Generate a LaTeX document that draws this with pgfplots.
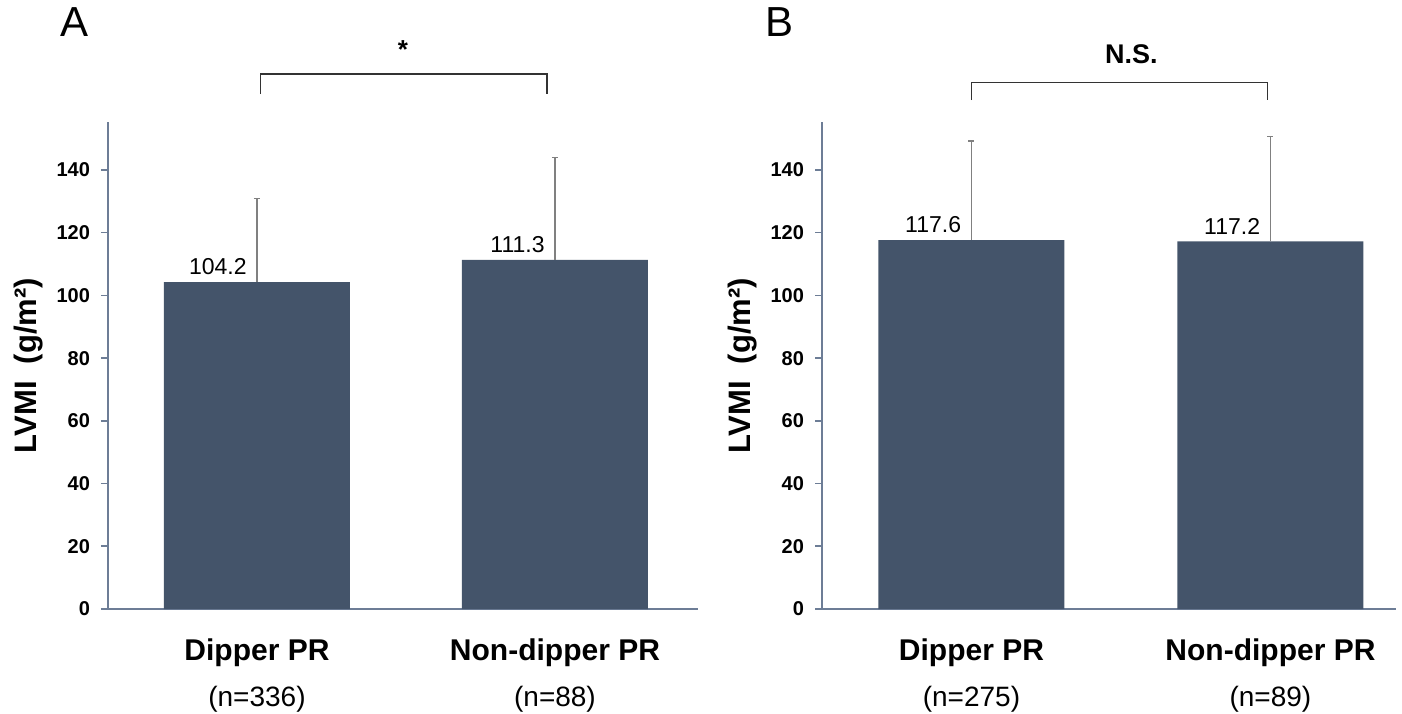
\documentclass[border=0pt]{standalone}
\usepackage{fontspec}
\setmainfont{Liberation Sans}
\usepackage{pgfplots}
\pgfplotsset{compat=1.18}

\definecolor{barcol}{HTML}{44546A}
\definecolor{axcol}{HTML}{6D7D96}
\definecolor{errcol}{HTML}{808080}

% 1 px of the reference = 0.5pt
\pgfplotsset{
  lvmi/.style={
    scale only axis,
    height=243.5pt,
    ymin=0, ymax=155.3,
    xmin=-0.5,
    axis x line*=bottom,
    axis y line*=left,
    axis line style={axcol, line width=0.8pt},
    ytick={0,20,...,140},
    ytick style={axcol, line width=0.8pt},
    major tick length=3.5pt,
    tick align=outside,
    xtick={0,1},
    major x tick style={draw=none},
    /pgf/number format/assume math mode=true,
    yticklabel style={font=\fontsize{10}{12}\selectfont\bfseries, xshift=-2pt},
    xticklabel style={align=center, yshift=-8pt},
    ylabel={LVMI\ \ (g/m²)},
    ylabel style={font=\fontsize{15.5}{18}\selectfont\bfseries},
    ybar,
    bar width=93pt,
    clip=false,
    nodes near coords={\pgfmathprintnumber[fixed,precision=1,fixed zerofill]{\pgfplotspointmeta}},
    every node near coord/.append style={font=\fontsize{11.5}{13}\selectfont, anchor=south east, inner sep=0pt, xshift=-5pt, yshift=3.5pt, color=black},
  },
  lvmibar/.style={
    fill=barcol, draw=none,
    error bars/.cd, y dir=plus, y explicit,
    error bar style={errcol, line width=0.7pt},
    error mark options={rotate=90, errcol, mark size=1.5pt, line width=0.7pt},
  },
}

\begin{document}
\begin{tikzpicture}
\path[use as bounding box] (0,0) rectangle (701pt,356.5pt);

% Panel A
\begin{axis}[lvmi,
  at={(54pt,52pt)}, anchor=south west,
  width=295pt, xmax=1.48,
  xticklabels={
    {\fontsize{15}{18}\selectfont\bfseries Dipper PR\\[8.5pt]\mdseries\fontsize{14}{17}\selectfont (n=336)},
    {\fontsize{15}{18}\selectfont\bfseries Non-dipper PR\\[8.5pt]\mdseries\fontsize{14}{17}\selectfont (n=88)}},
]
\addplot[lvmibar] coordinates {(0,104.2) +- (0,26.8) (1,111.3) +- (0,32.7)};
\draw[black!80, line width=0.6pt] (axis cs:0.013,164.2) -- (axis cs:0.013,170.6) -- (axis cs:0.973,170.6) -- (axis cs:0.973,164.2);
\node[font=\fontsize{13}{15}\selectfont\bfseries] at (axis cs:0.49,178.5) {*};
\node[font=\fontsize{21}{24}\selectfont, anchor=north west, inner sep=0pt] at (axis cs:-0.66,192) {A};
\end{axis}

% Panel B
\begin{axis}[lvmi,
  at={(411pt,52pt)}, anchor=south west,
  width=287pt, xmax=1.42,
  xticklabels={
    {\fontsize{15}{18}\selectfont\bfseries Dipper PR\\[8.5pt]\mdseries\fontsize{14}{17}\selectfont (n=275)},
    {\fontsize{15}{18}\selectfont\bfseries Non-dipper PR\\[8.5pt]\mdseries\fontsize{14}{17}\selectfont (n=89)}},
]
\addplot[lvmibar] coordinates {(0,117.6) +- (0,31.7) (1,117.2) +- (0,33.5)};
\draw[black!80, line width=0.6pt] (axis cs:0,162.3) -- (axis cs:0,168) -- (axis cs:0.99,168) -- (axis cs:0.99,162.3);
\node[font=\fontsize{13.5}{15}\selectfont\bfseries] at (axis cs:0.535,176.8) {N.S.};
\node[font=\fontsize{21}{24}\selectfont, anchor=north west, inner sep=0pt] at (axis cs:-0.69,192) {B};
\end{axis}
\end{tikzpicture}
\end{document}
